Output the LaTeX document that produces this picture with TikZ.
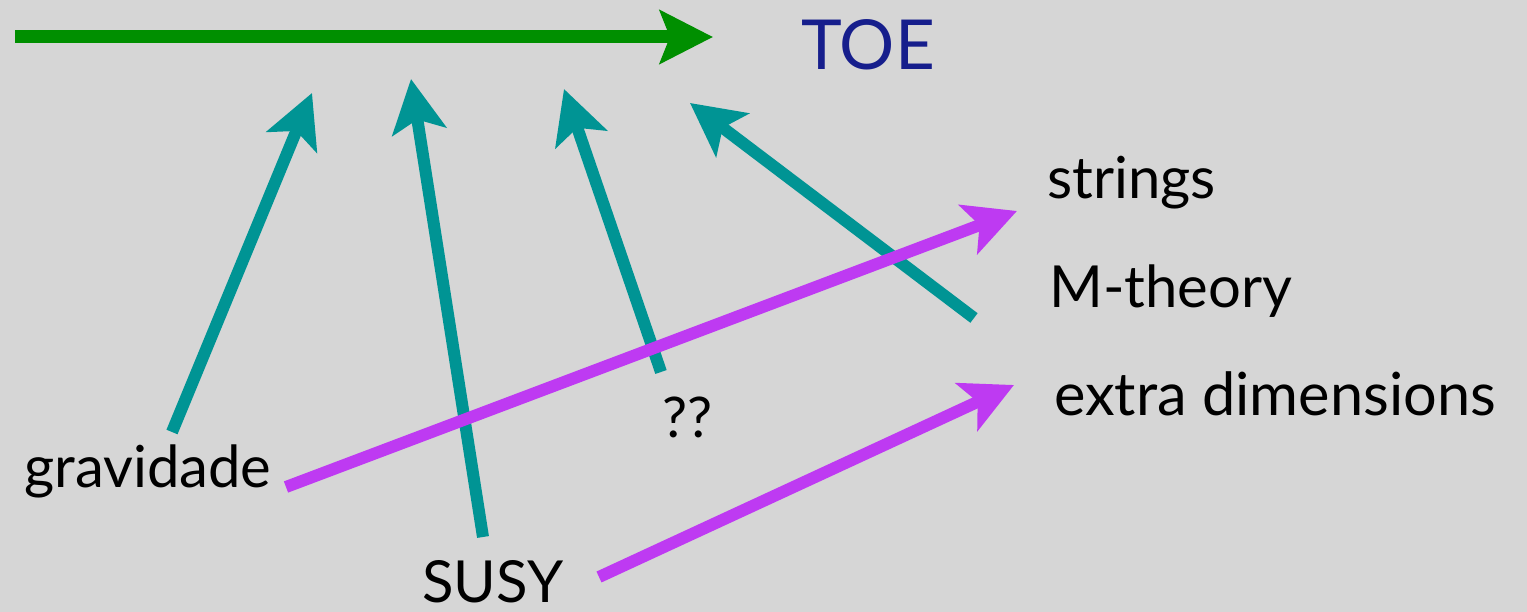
\documentclass[tikz,border=0pt]{standalone}
\usepackage{fontspec}
\setmainfont{Lato}
\usetikzlibrary{arrows.meta}
\definecolor{bggray}{RGB}{214,214,214}
\definecolor{toegreen}{RGB}{0,143,0}
\definecolor{tealc}{RGB}{0,148,148}
\definecolor{violetc}{RGB}{190,58,242}
\definecolor{toeblue}{RGB}{22,30,140}
\tikzset{
  label/.style={anchor=base west, inner sep=0pt, font=\fontsize{58}{64}\selectfont, text=black},
  feed/.style={line width=12pt, draw=tealc, -{Stealth[length=53pt, width=54pt, inset=12pt]}},
  link/.style={line width=12pt, draw=violetc, -{Stealth[length=52pt, width=52pt, inset=12pt]}},
  goal/.style={line width=13pt, draw=toegreen, -{Stealth[length=53pt, width=53pt, inset=10pt]}}
}
\begin{document}
\begin{tikzpicture}[x=1pt, y=-1pt]
  \fill[bggray] (0,0) rectangle (1527,612);
  \useasboundingbox (0,0) rectangle (1527,612);

  % labels
  \node[label, anchor=base, text=toeblue, font=\fontsize{69}{76}\selectfont] (toe) at (868,70) {TOE};
  \node[label] (strings) at (1047,199) {strings};
  \node[label] (mth) at (1049,308) {M-theory};
  \node[label, font=\fontsize{59.5}{66}\selectfont] (extra) at (1054,415) {extra dimensions};
  \node[label] (grav) at (24,487) {gravidade};
  \node[label] (susy) at (422,602) {SUSY};
  \node[label, font=\fontsize{56}{62}\selectfont] (qq) at (662,437) {??};

  % arrow ends
  \coordinate (start) at (15,37);
  \coordinate (goal) at (713,37);
  \coordinate (g-up) at (172,432);
  \coordinate (g-tip) at (312,93);
  \coordinate (s-up) at (483,537);
  \coordinate (s-tip) at (411,79);
  \coordinate (q-up) at (661,372);
  \coordinate (q-tip) at (564,89);
  \coordinate (m-up) at (974,318);
  \coordinate (m-tip) at (690,103);
  \coordinate (g-out) at (286,487);
  \coordinate (str-in) at (1017,211);
  \coordinate (s-out) at (599,577);
  \coordinate (ext-in) at (1014,385);

  % main line toward TOE
  \draw[goal] (start) -- (goal);

  % contributions toward the main line
  \draw[feed] (g-up) -- (g-tip);
  \draw[feed] (s-up) -- (s-tip);
  \draw[feed] (q-up) -- (q-tip);
  \draw[feed] (m-up) -- (m-tip);

  % links to the candidate theories
  \draw[link] (g-out) -- (str-in);
  \draw[link] (s-out) -- (ext-in);
\end{tikzpicture}
\end{document}
